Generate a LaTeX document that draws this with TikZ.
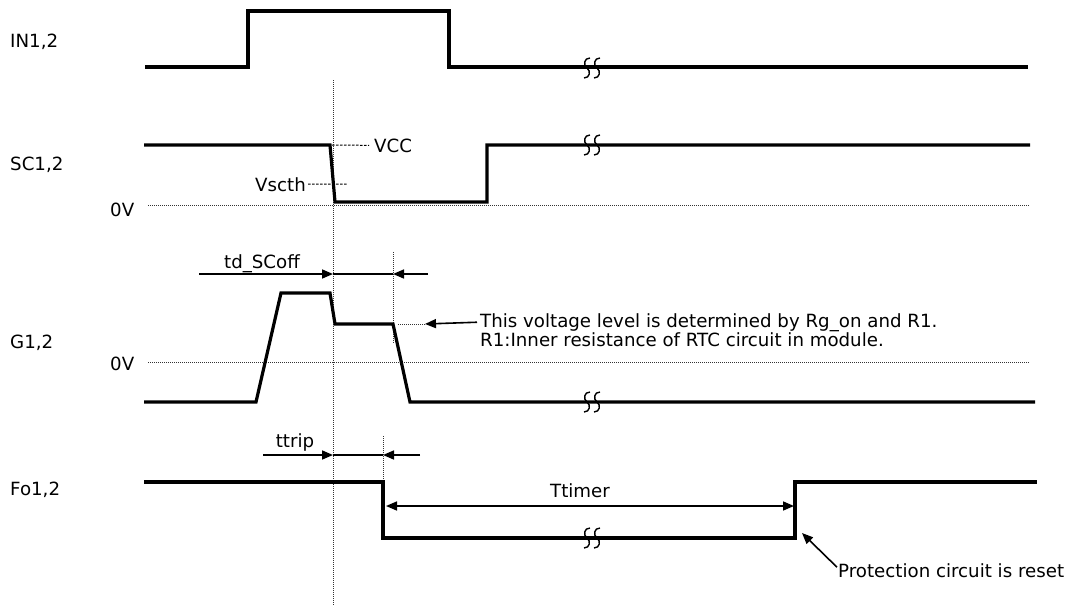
\documentclass[tikz,border=0pt]{standalone}
\usepackage{fontspec}
\setmainfont{DejaVu Sans}
\usetikzlibrary{arrows.meta, positioning, calc}

\begin{document}
\begin{tikzpicture}[x=1pt, y=-1pt,
  wave/.style={line width=3.2pt, line join=miter},
  guide/.style={line width=1pt, dash pattern=on 1pt off 1pt, black!80},
  lvl/.style={line width=1pt, dash pattern=on 2.5pt off 1.5pt},
  dim/.style={line width=1.6pt, ->},
  span/.style={line width=2.2pt},
  >={Triangle[length=11pt,width=9pt]},
  txt/.style={inner sep=0pt, anchor=base west, font=\fontsize{18.2}{19}\selectfont},
  brk/.pic={
    \foreach \dx in {-5,5}
      \draw[line width=1.4pt] ({\dx+3},-10) .. controls ({\dx-3},-10) and ({\dx-4},-3) .. (\dx,0)
        .. controls ({\dx+4},3) and ({\dx+3},10) .. ({\dx-3},10);
  }]
  \useasboundingbox (0,0) rectangle (1069,605);

  % Signal names
  \node[txt] (lblIN) at (10,47) {IN1,2};
  \node[txt] (lblSC) at (10,170) {SC1,2};
  \node[txt] (lblG) at (10,348) {G1,2};
  \node[txt] (lblFo) at (10,495) {Fo1,2};

  % 0V levels
  \node[txt] (zeroSC) at (110,216) {0V};
  \node[txt] (zeroG) at (110,370) {0V};
  \draw[guide] (148,205) -- (1029,205);
  \draw[guide] (148,362) -- (1029,362);

  % Time markers
  \draw[guide] (333,80) -- (333,605);
  \draw[guide] (393,252) -- (393,343);
  \draw[guide] (383,436) -- (383,482);

  % IN1,2
  \draw[wave] (145,67) -- (248,67) -- (248,11) -- (449,11) -- (449,67) -- (1028,67);
  \pic at (592,68) {brk};

  % SC1,2
  \coordinate (scHi) at (332,145);
  \coordinate (scTh) at (347,184);
  \draw[wave] (144,145) -- (330,145) -- (335,202) -- (487,202) -- (487,145) -- (1030,145);
  \pic at (592,145) {brk};
  \node[txt] (vcc) at (374,152) {VCC};
  \node[txt, anchor=base east] (vscth) at (306,191) {Vscth};
  \draw[lvl, shorten >=5pt] (scHi) -- (vcc.west);
  \draw[lvl, shorten <=2pt] (vscth.east) -- (scTh);

  % G1,2
  \coordinate (gMid) at (398,324);
  \coordinate (gTip) at (425,324);
  \draw[wave] (144,402) -- (256,402) -- (281,293) -- (330,293) -- (335,324) -- (393,324) -- (410,402) -- (1035,402);
  \pic at (592,402) {brk};
  \draw[guide] (gMid) -- (gTip);
  \node[txt] (msg1) at (480,327) {This voltage level is determined by Rg\_on and R1.};
  \node[txt] (msg2) at (480,346) {R1:Inner resistance of RTC circuit in module.};
  \draw[dim] ($(msg1.west)+(-3,0)$) -- (gTip);

  % td_SCoff
  \coordinate (tdL) at (199,274);
  \coordinate (tdA) at (333,274);
  \coordinate (tdB) at (393,274);
  \coordinate (tdR) at (428,274);
  \node[txt, anchor=base] (tdoff) at (262,268) {td\_SCoff};
  \draw[dim] (tdL) -- (tdA);
  \draw[span] (tdA) -- (tdB);
  \draw[dim] (tdR) -- (tdB);

  % Fo1,2
  \coordinate (foDn) at (386,506);
  \coordinate (foUp) at (794,506);
  \coordinate (rstTip) at (802,533);
  \draw[wave] (144,482) -- (383,482) -- (383,538) -- (795,538) -- (795,482) -- (1037,482);
  \pic at (592,538) {brk};
  \node[txt, anchor=base] (ttimer) at (580,497) {Ttimer};
  \draw[dim, <->] (foDn) -- (foUp);
  \node[txt] (reset) at (838,577) {Protection circuit is reset};
  \draw[dim] ($(reset.west)+(-1,-3)$) -- (rstTip);

  % ttrip
  \coordinate (trL) at (263,455);
  \coordinate (trA) at (333,455);
  \coordinate (trB) at (383,455);
  \coordinate (trR) at (420,455);
  \node[txt, anchor=base] (ttrip) at (295,447) {ttrip};
  \draw[dim] (trL) -- (trA);
  \draw[span] (trA) -- (trB);
  \draw[dim] (trR) -- (trB);
\end{tikzpicture}
\end{document}
